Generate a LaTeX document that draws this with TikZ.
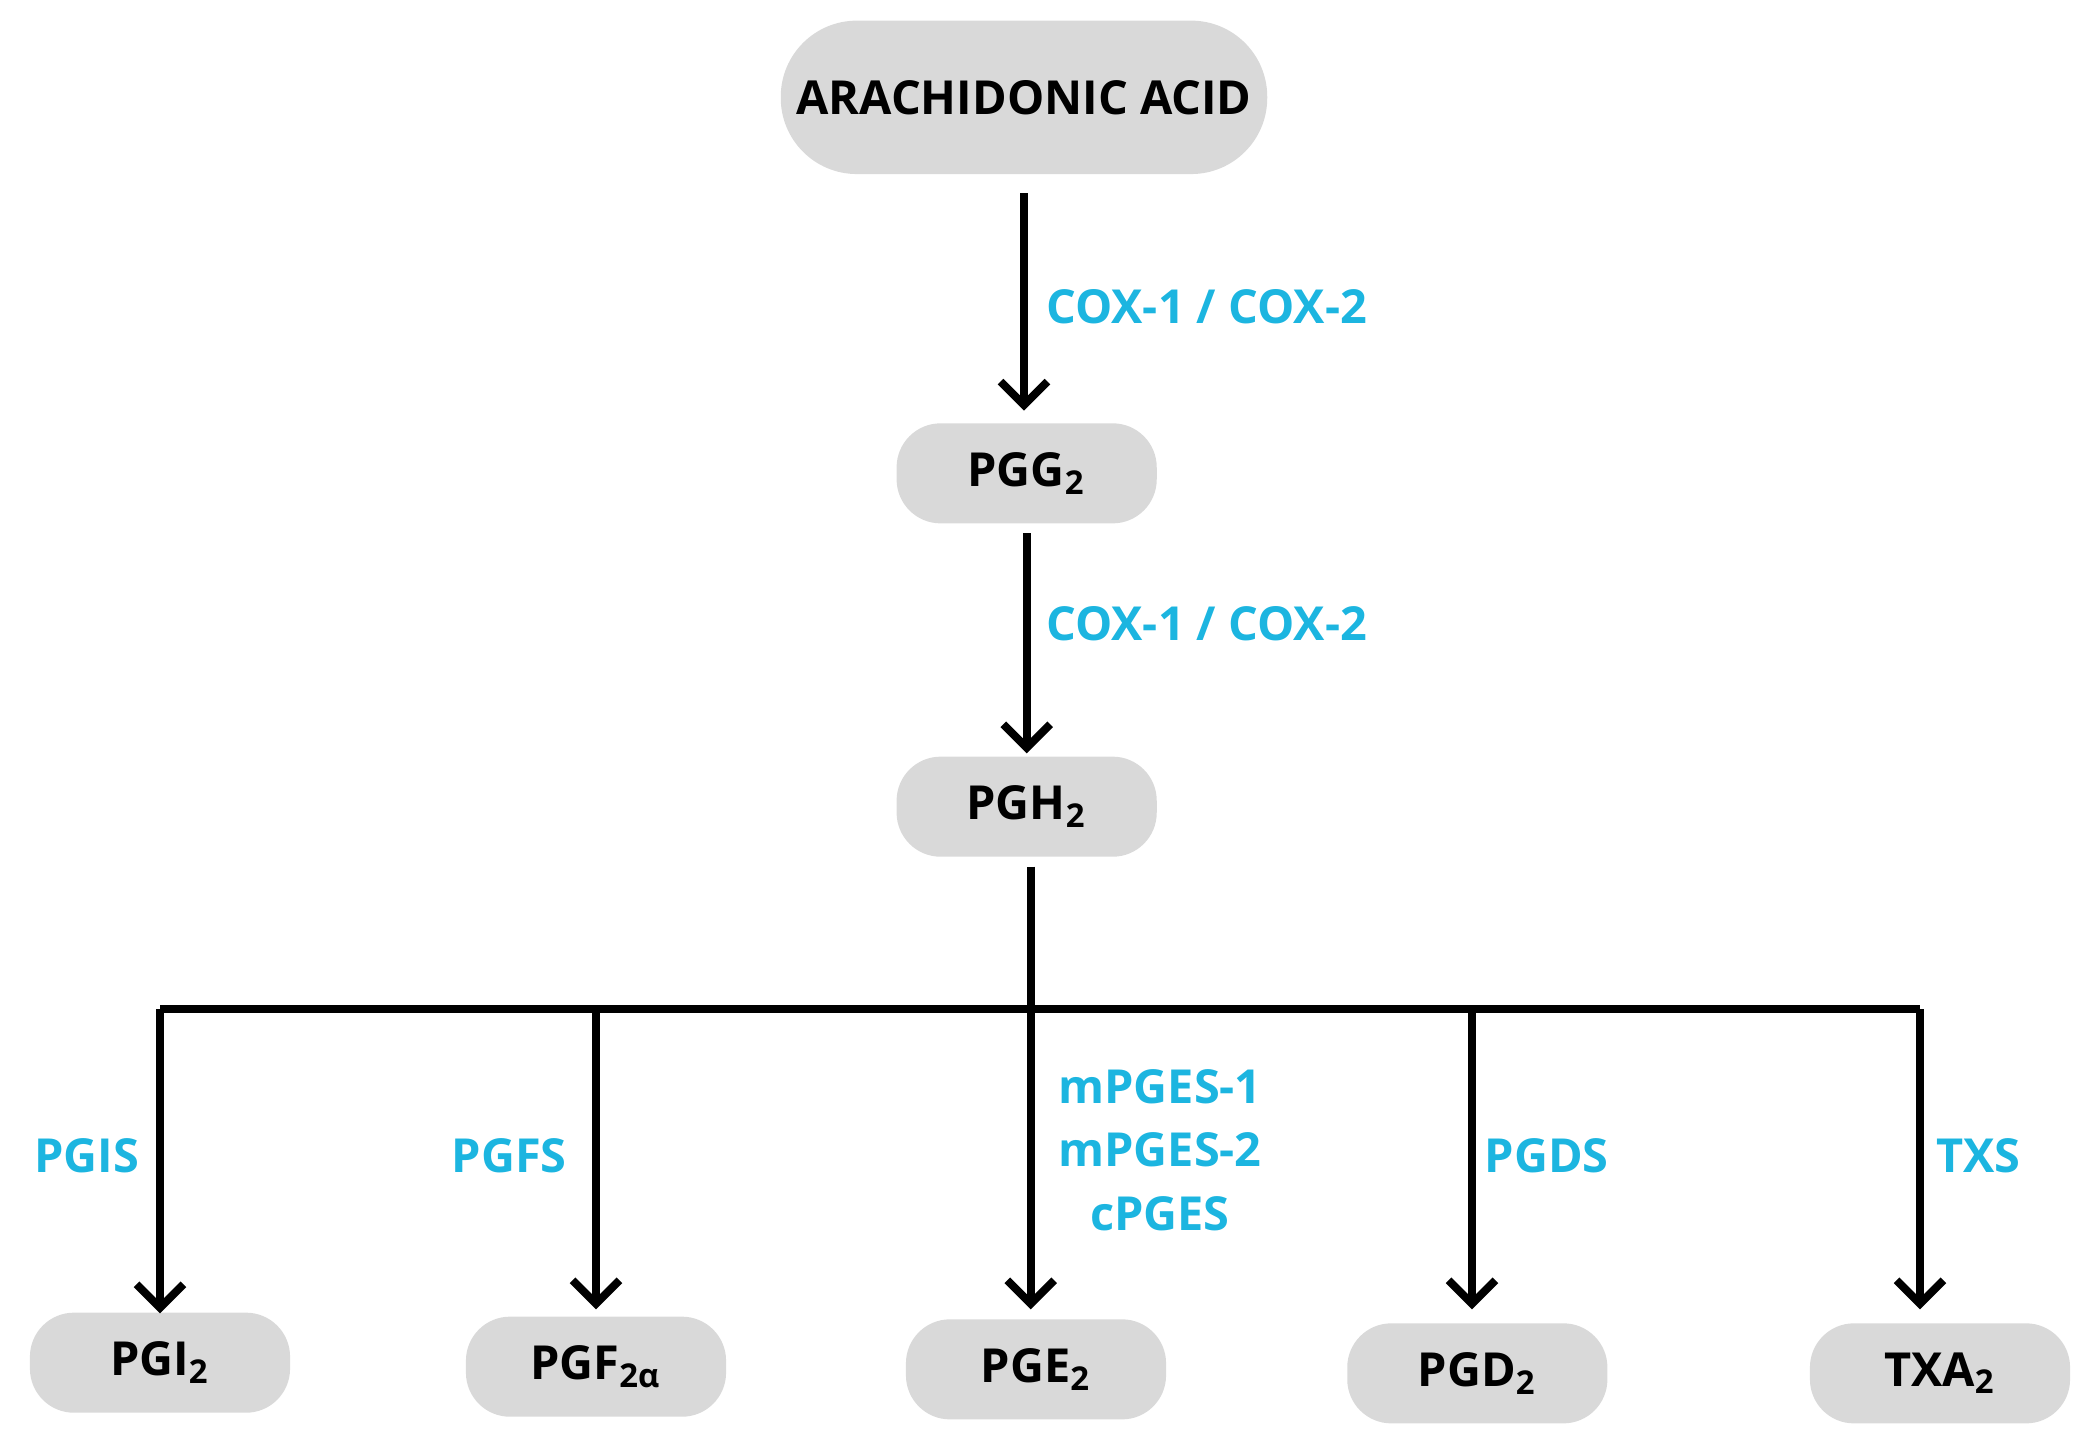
\documentclass[tikz,border=0pt]{standalone}
\usepackage{fontspec}
\setmainfont{Open Sans}
\usetikzlibrary{arrows.meta}
\definecolor{lbl}{RGB}{28,181,224}
\definecolor{box}{RGB}{217,217,217}
\begin{document}
\begin{tikzpicture}[x=0.01cm,y=-0.01cm,
  comp/.style={fill=box,draw=none,font=\bfseries\fontsize{10}{12}\selectfont,text=black,minimum height=0.75cm,minimum width=1.95cm,rounded corners=0.33cm},
  enz/.style={text=lbl,font=\bfseries\fontsize{10}{12}\selectfont,align=center},
  arr/.style={line width=1.7pt,-{Straight Barb[length=5pt,width=10pt,line width=1.7pt]}},
  ln/.style={line width=1.7pt}]
\useasboundingbox (0,0) rectangle (1560,1078);
\node[comp,minimum width=3.6cm,minimum height=1.15cm,rounded corners=0.57cm] (aa) at (768,73) {ARACHIDONIC ACID};
\node[comp] (g2) at (770,355) {PGG\textsubscript{2}};
\node[comp] (h2) at (770,605) {PGH\textsubscript{2}};
\node[comp] (i2) at (120,1022) {PGI\textsubscript{2}};
\node[comp] (f2) at (447,1025) {PGF\textsubscript{2α}};
\node[comp] (e2) at (777,1027) {PGE\textsubscript{2}};
\node[comp] (d2) at (1108,1030) {PGD\textsubscript{2}};
\node[comp] (tx) at (1455,1030) {TXA\textsubscript{2}};
\coordinate (j) at (773,757);
\coordinate (jl) at (120,757);
\coordinate (jr) at (1440,757);
\draw[arr] (768,145) -- (768,308);
\draw[arr] (770,400) -- (770,565);
\draw[ln] (773,650) -- (j);
\draw[ln] (jl) -- (jr);
\draw[arr] (jl) -- (120,985);
\draw[arr] (447,757) -- (447,982);
\draw[arr] (j) -- (773,982);
\draw[arr] (1104,757) -- (1104,982);
\draw[arr] (jr) -- (1440,982);
\node[enz] at (905,230) {COX-1 / COX-2};
\node[enz] at (905,468) {COX-1 / COX-2};
\node[enz] at (65,867) {PGIS};
\node[enz] at (382,867) {PGFS};
\node[enz] at (1160,867) {PGDS};
\node[enz] at (1484,867) {TXS};
\node[enz] at (870,815) {mPGES-1};
\node[enz] at (870,862) {mPGES-2};
\node[enz] at (870,910) {cPGES};
\end{tikzpicture}
\end{document}
